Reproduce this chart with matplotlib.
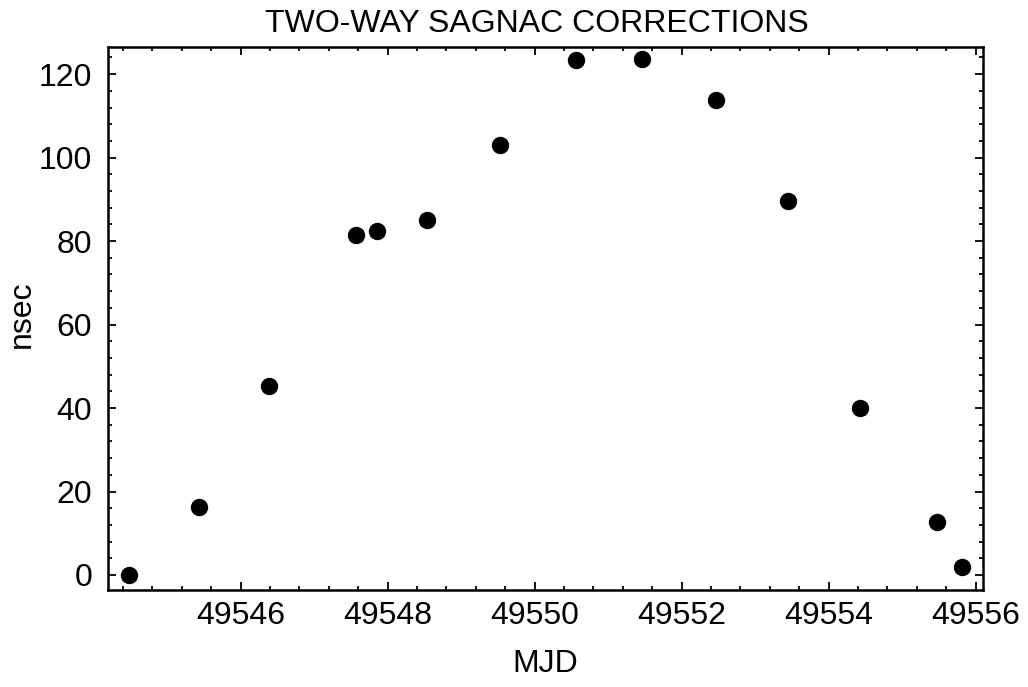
import matplotlib
matplotlib.use('Agg')
import matplotlib.pyplot as plt
import numpy as np
from matplotlib.ticker import MultipleLocator

plt.rcParams['font.family'] = ['Liberation Sans', 'DejaVu Sans']

# data
mjd = [49544.48, 49545.44, 49546.39, 49547.57, 49547.86, 49548.53, 49549.53,
       49550.56, 49551.46, 49552.47, 49553.45, 49554.42, 49555.47, 49555.81]
nsec = [0.0, 16.4, 45.2, 81.4, 82.4, 85.0, 103.1,
        123.4, 123.6, 113.8, 89.5, 40.0, 12.8, 1.8]

W, H = 1028, 687
fig = plt.figure(figsize=(W/100, H/100), dpi=100)
ax = fig.add_axes([107.5/W, 1 - 590/H, (983 - 107.5)/W, (590 - 47)/H])

ax.plot(mjd, nsec, 'o', color='black', markersize=11.5)

ax.set_xlim(49544.19, 49556.1)
ax.set_ylim(-3.6, 126.5)

ax.xaxis.set_major_locator(MultipleLocator(2))
ax.xaxis.set_minor_locator(MultipleLocator(0.4))
ax.yaxis.set_major_locator(MultipleLocator(20))
ax.yaxis.set_minor_locator(MultipleLocator(4))
ax.ticklabel_format(useOffset=False, style='plain')

ax.tick_params(which='both', direction='in', top=True, right=True, labelsize=23, width=1.3)
ax.tick_params(which='major', length=6)
ax.tick_params(which='minor', length=3)
ax.tick_params(axis='x', pad=8)
ax.tick_params(axis='y', pad=11)
for s in ax.spines.values():
    s.set_linewidth(1.8)

fig.text(537/W, 1 - 24/H, 'TWO-WAY SAGNAC CORRECTIONS', ha='center', va='center', fontsize=23)
fig.text(545/W, 1 - 664/H, 'MJD', ha='center', va='center', fontsize=23)
fig.text(22/W, 1 - 314/H, 'nsec', ha='center', va='center', rotation=90, fontsize=23)

fig.savefig('out.png', dpi=100)
